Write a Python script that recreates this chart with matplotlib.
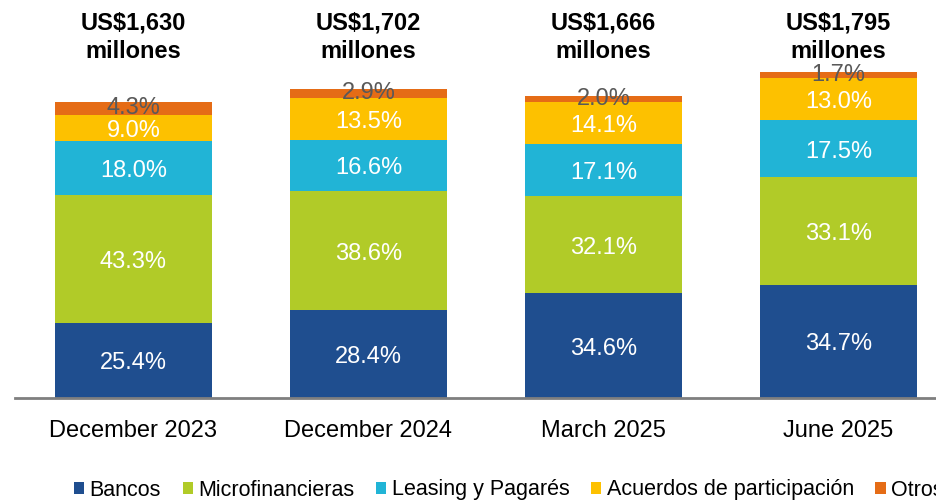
import matplotlib
matplotlib.use('Agg')
import matplotlib.pyplot as plt
import matplotlib.transforms as mtransforms
from matplotlib.patches import Patch

plt.rcParams['font.family'] = ['Liberation Sans', 'DejaVu Sans']

categories = ["December 2023", "December 2024", "March 2025", "June 2025"]
totals = [1630, 1702, 1666, 1795]
total_labels = ["US$1,630", "US$1,702", "US$1,666", "US$1,795"]
unit_label = "millones"
series_names = ["Bancos", "Microfinancieras", "Leasing y Pagarés",
                "Acuerdos de participación", "Otros"]
bancos = [25.4, 28.4, 34.6, 34.7]
microfinancieras = [43.3, 38.6, 32.1, 33.1]
leasing = [18.0, 16.6, 17.1, 17.5]
acuerdos = [9.0, 13.5, 14.1, 13.0]
otros = [4.3, 2.9, 2.0, 1.7]

series = [bancos, microfinancieras, leasing, acuerdos, otros]
colors = ["#1f4e8f", "#b1cb28", "#21b4d6", "#fdc100", "#e56c16"]
label_colors = ["white", "white", "white", "white", "#595959"]

fig = plt.figure(figsize=(9.36, 5.0), dpi=100)
ax = fig.add_axes([15 / 936, 102 / 500, 940 / 936, 398 / 500])

x = list(range(len(categories)))
bottoms = [0.0] * len(categories)
width = 0.668
for vals, col, lc in zip(series, colors, label_colors):
    heights = [t * v / 100.0 for t, v in zip(totals, vals)]
    ax.bar(x, heights, width, bottom=bottoms, color=col, edgecolor='none', zorder=2)
    for i, (h, v) in enumerate(zip(heights, vals)):
        yc = bottoms[i] + h / 2
        dy = -2.2 if lc == "white" else 0
        ax.annotate(f"{v:.1f}%", (x[i], yc), xytext=(0, dy),
                    textcoords='offset points', ha='center', va='center',
                    fontsize=17, color=lc, zorder=3)
    bottoms = [b + h for b, h in zip(bottoms, heights)]

ax.set_xlim(-0.504, 3.496)
ax.set_ylim(0, 1795 * 398 / 326)

trans = mtransforms.blended_transform_factory(ax.transData, fig.transFigure)
for i, lab in enumerate(total_labels):
    ax.text(x[i], 1 - 23 / 500, lab, transform=trans, ha='center', va='center',
            fontsize=17, fontweight='bold', color='black')
    ax.text(x[i], 1 - 51 / 500, unit_label, transform=trans, ha='center', va='center',
            fontsize=17, fontweight='bold', color='black')

for s in ['top', 'right', 'left']:
    ax.spines[s].set_visible(False)
ax.spines['bottom'].set_color('#7f7f7f')
ax.spines['bottom'].set_linewidth(2)
ax.spines['bottom'].set_zorder(4)
ax.set_yticks([])
ax.set_xticks(x)
ax.set_xticklabels(categories, fontsize=17)
ax.tick_params(axis='x', length=0, pad=16)

handles = [Patch(facecolor=c, edgecolor='none') for c in colors]
fig.legend(handles, series_names, loc='center left', bbox_to_anchor=(74 / 936, 1 - 490 / 500),
           ncol=5, frameon=False, fontsize=15.5, handlelength=0.48, handleheight=0.48,
           handletextpad=0.25, columnspacing=1.0, borderpad=0, borderaxespad=0)

fig.savefig("out.png", dpi=100)
